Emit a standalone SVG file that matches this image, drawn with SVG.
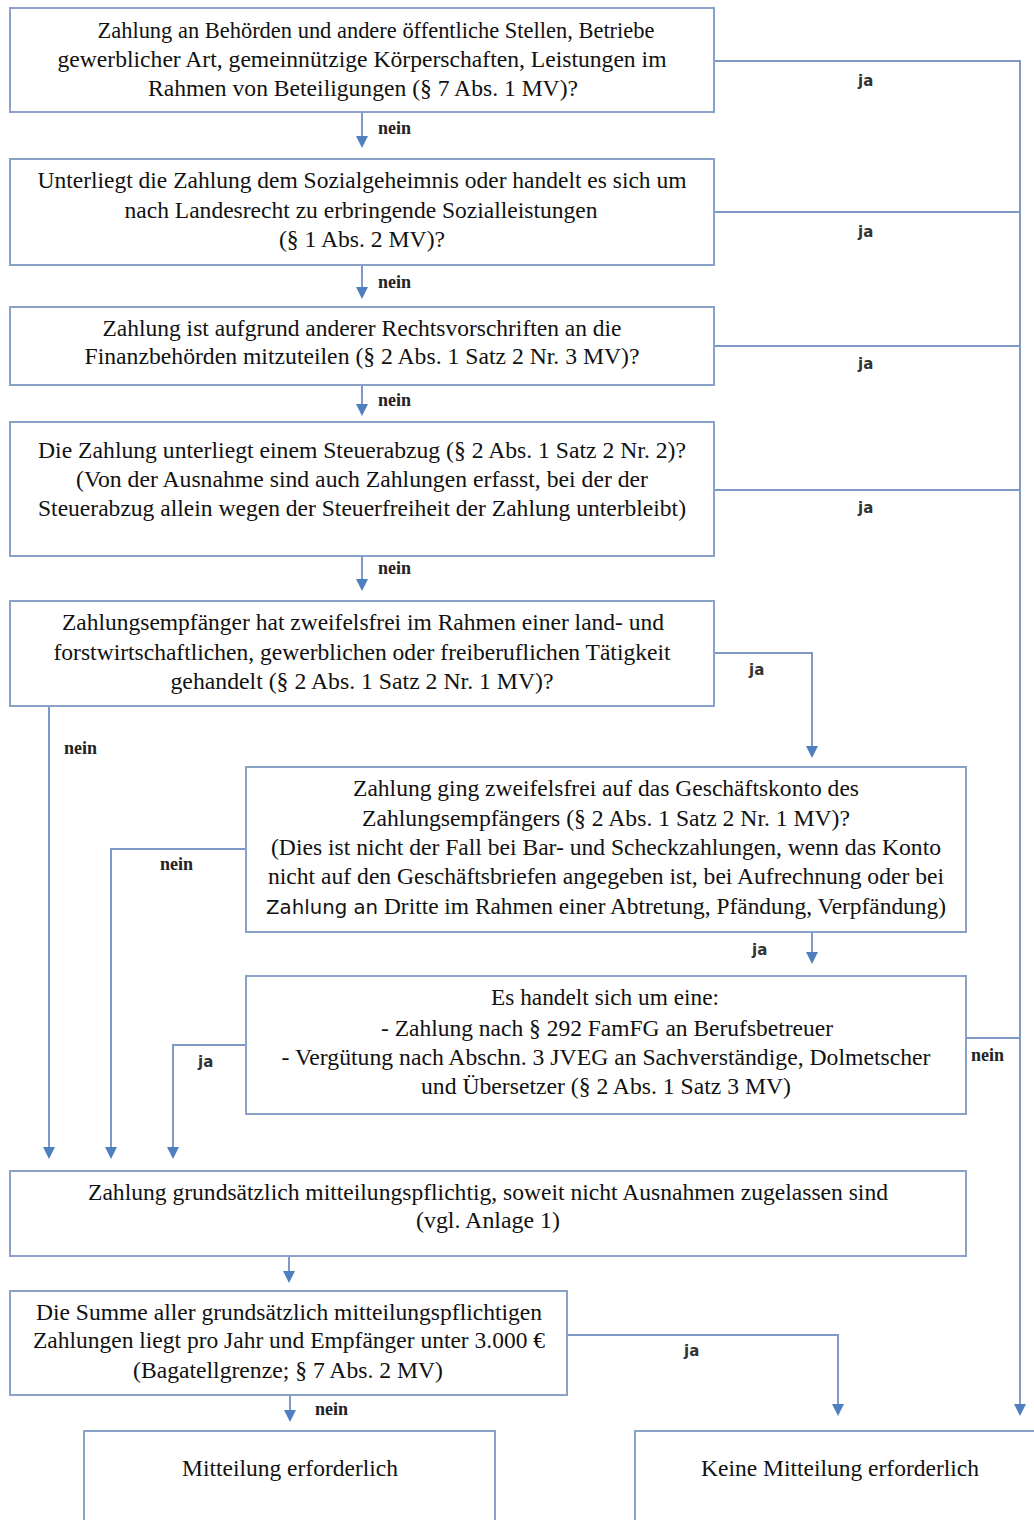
<svg xmlns="http://www.w3.org/2000/svg" width="1034" height="1520" viewBox="0 0 1034 1520">
<style>
.box{fill:#fff;stroke:#8aa2c8;stroke-width:2}
.t{font-family:"Liberation Serif","Times New Roman",serif;font-size:22.5px;fill:#111;text-anchor:middle}
.n{font-family:"Liberation Serif","Times New Roman",serif;font-size:18px;font-weight:bold;fill:#222}
.j{font-family:"DejaVu Sans",Verdana,sans-serif;font-size:15px;font-weight:bold;fill:#333}
.c{fill:none;stroke:#7f9ac6;stroke-width:2}
.s{font-family:"DejaVu Sans",Verdana,sans-serif;font-size:19px}
.h{fill:#4f7fbf}
</style>
<rect width="1034" height="1520" fill="#fff"/>
<g id="connectors">
<path class="c" d="M362,112 V140"/>
<path class="c" d="M362,265 V290"/>
<path class="c" d="M714,61 H1020 V1408"/>
<path class="c" d="M714,212 H1020"/>
<path class="c" d="M714,346 H1020"/>
<path class="c" d="M714,490 H1020"/>
<path class="c" d="M966,1038 H1020"/>
<path class="c" d="M362,385 V408"/>
<path class="c" d="M362,556 V583"/>
<path class="c" d="M714,653 H812 V750"/>
<path class="c" d="M49,706 V1151"/>
<path class="c" d="M246,849 H111 V1151"/>
<path class="c" d="M812,932 V956"/>
<path class="c" d="M246,1045 H173 V1151"/>
<path class="c" d="M289,1256 V1275"/>
<path class="c" d="M567,1335 H838 V1408"/>
<path class="c" d="M290,1395 V1414"/>
<g class="h">
<path d="M356,136 H368 L362,148 Z"/>
<path d="M356,287 H368 L362,299 Z"/>
<path d="M356,404 H368 L362,416 Z"/>
<path d="M356,579 H368 L362,591 Z"/>
<path d="M806,746 H818 L812,758 Z"/>
<path d="M43,1147 H55 L49,1159 Z"/>
<path d="M105,1147 H117 L111,1159 Z"/>
<path d="M167,1147 H179 L173,1159 Z"/>
<path d="M806,952 H818 L812,964 Z"/>
<path d="M283,1271 H295 L289,1283 Z"/>
<path d="M832,1404 H844 L838,1416 Z"/>
<path d="M1014,1404 H1026 L1020,1416 Z"/>
<path d="M284,1410 H296 L290,1422 Z"/>
</g>
<text class="n" x="378" y="134">nein</text>
<text class="j" x="858" y="86">ja</text>
<text class="j" x="858" y="237">ja</text>
<text class="n" x="378" y="288">nein</text>
<text class="j" x="858" y="369">ja</text>
<text class="n" x="378" y="406">nein</text>
<text class="j" x="858" y="513">ja</text>
<text class="n" x="378" y="574">nein</text>
<text class="j" x="749" y="675">ja</text>
<text class="n" x="64" y="754">nein</text>
<text class="n" x="160" y="870">nein</text>
<text class="j" x="752" y="955">ja</text>
<text class="j" x="198" y="1067">ja</text>
<text class="n" x="971" y="1061">nein</text>
<text class="j" x="684" y="1356">ja</text>
<text class="n" x="315" y="1415">nein</text>
</g>
<g id="node1">
<rect class="box" x="10" y="8" width="704" height="104"/>
<text class="t" x="376" y="38" textLength="557" lengthAdjust="spacingAndGlyphs">Zahlung an Behörden und andere öffentliche Stellen, Betriebe</text>
<text class="t" x="362" y="67" textLength="609" lengthAdjust="spacingAndGlyphs">gewerblicher Art, gemeinnützige Körperschaften, Leistungen im</text>
<text class="t" x="363" y="96" textLength="430" lengthAdjust="spacingAndGlyphs">Rahmen von Beteiligungen (§ 7 Abs. 1 MV)?</text>
</g>
<g id="node2">
<rect class="box" x="10" y="159" width="704" height="106"/>
<text class="t" x="362" y="188" textLength="649" lengthAdjust="spacingAndGlyphs">Unterliegt die Zahlung dem Sozialgeheimnis oder handelt es sich um</text>
<text class="t" x="361" y="218" textLength="473" lengthAdjust="spacingAndGlyphs">nach Landesrecht zu erbringende Sozialleistungen</text>
<text class="t" x="362" y="247" textLength="166" lengthAdjust="spacingAndGlyphs">(§ 1 Abs. 2 MV)?</text>
</g>
<g id="node3">
<rect class="box" x="10" y="307" width="704" height="78"/>
<text class="t" x="362" y="336" textLength="519" lengthAdjust="spacingAndGlyphs">Zahlung ist aufgrund anderer Rechtsvorschriften an die</text>
<text class="t" x="362" y="364" textLength="555" lengthAdjust="spacingAndGlyphs">Finanzbehörden mitzuteilen (§ 2 Abs. 1 Satz 2 Nr. 3 MV)?</text>
</g>
<g id="node4">
<rect class="box" x="10" y="422" width="704" height="134"/>
<text class="t" x="362" y="458" textLength="648" lengthAdjust="spacingAndGlyphs">Die Zahlung unterliegt einem Steuerabzug (§ 2 Abs. 1 Satz 2 Nr. 2)?</text>
<text class="t" x="362" y="487" textLength="572" lengthAdjust="spacingAndGlyphs">(Von der Ausnahme sind auch Zahlungen erfasst, bei der der</text>
<text class="t" x="362" y="516" textLength="648" lengthAdjust="spacingAndGlyphs">Steuerabzug allein wegen der Steuerfreiheit der Zahlung unterbleibt)</text>
</g>
<g id="node5">
<rect class="box" x="10" y="601" width="704" height="105"/>
<text class="t" x="363" y="630" textLength="602" lengthAdjust="spacingAndGlyphs">Zahlungsempfänger hat zweifelsfrei im Rahmen einer land- und</text>
<text class="t" x="362" y="660" textLength="617" lengthAdjust="spacingAndGlyphs">forstwirtschaftlichen, gewerblichen oder freiberuflichen Tätigkeit</text>
<text class="t" x="362" y="689" textLength="383" lengthAdjust="spacingAndGlyphs">gehandelt (§ 2 Abs. 1 Satz 2 Nr. 1 MV)?</text>
</g>
<g id="node6">
<rect class="box" x="246" y="767" width="720" height="165"/>
<text class="t" x="606" y="796" textLength="506" lengthAdjust="spacingAndGlyphs">Zahlung ging zweifelsfrei auf das Geschäftskonto des</text>
<text class="t" x="606" y="826" textLength="488" lengthAdjust="spacingAndGlyphs">Zahlungsempfängers (§ 2 Abs. 1 Satz 2 Nr. 1 MV)?</text>
<text class="t" x="606" y="855" textLength="670" lengthAdjust="spacingAndGlyphs">(Dies ist nicht der Fall bei Bar- und Scheckzahlungen, wenn das Konto</text>
<text class="t" x="606" y="884" textLength="676" lengthAdjust="spacingAndGlyphs">nicht auf den Geschäftsbriefen angegeben ist, bei Aufrechnung oder bei</text>
<text class="t" x="606" y="914" textLength="680" lengthAdjust="spacingAndGlyphs"><tspan class="s">Zahlung an</tspan> Dritte im Rahmen einer Abtretung, Pfändung, Verpfändung)</text>
</g>
<g id="node7">
<rect class="box" x="246" y="976" width="720" height="138"/>
<text class="t" x="605" y="1005" textLength="228" lengthAdjust="spacingAndGlyphs">Es handelt sich um eine:</text>
<text class="t" x="607" y="1036" textLength="452" lengthAdjust="spacingAndGlyphs">- Zahlung nach § 292 FamFG an Berufsbetreuer</text>
<text class="t" x="606" y="1065" textLength="649" lengthAdjust="spacingAndGlyphs">- Vergütung nach Abschn. 3 JVEG an Sachverständige, Dolmetscher</text>
<text class="t" x="606" y="1094" textLength="370" lengthAdjust="spacingAndGlyphs">und Übersetzer (§ 2 Abs. 1 Satz 3 MV)</text>
</g>
<g id="node8">
<rect class="box" x="10" y="1171" width="956" height="85"/>
<text class="t" x="488" y="1200" textLength="800" lengthAdjust="spacingAndGlyphs">Zahlung grundsätzlich mitteilungspflichtig, soweit nicht Ausnahmen zugelassen sind</text>
<text class="t" x="488" y="1228" textLength="144" lengthAdjust="spacingAndGlyphs">(vgl. Anlage 1)</text>
</g>
<g id="node9">
<rect class="box" x="10" y="1291" width="557" height="104"/>
<text class="t" x="289" y="1320" textLength="506" lengthAdjust="spacingAndGlyphs">Die Summe aller grundsätzlich mitteilungspflichtigen</text>
<text class="t" x="289" y="1348" textLength="512" lengthAdjust="spacingAndGlyphs">Zahlungen liegt pro Jahr und Empfänger unter 3.000 €</text>
<text class="t" x="288" y="1378" textLength="310" lengthAdjust="spacingAndGlyphs">(Bagatellgrenze; § 7 Abs. 2 MV)</text>
</g>
<g id="node10">
<rect class="box" x="84" y="1431" width="411" height="100"/>
<text class="t" x="290" y="1476" textLength="216" lengthAdjust="spacingAndGlyphs">Mitteilung erforderlich</text>
</g>
<g id="node11">
<rect class="box" x="635" y="1431" width="410" height="100"/>
<text class="t" x="840" y="1476" textLength="278" lengthAdjust="spacingAndGlyphs">Keine Mitteilung erforderlich</text>
</g>
</svg>
